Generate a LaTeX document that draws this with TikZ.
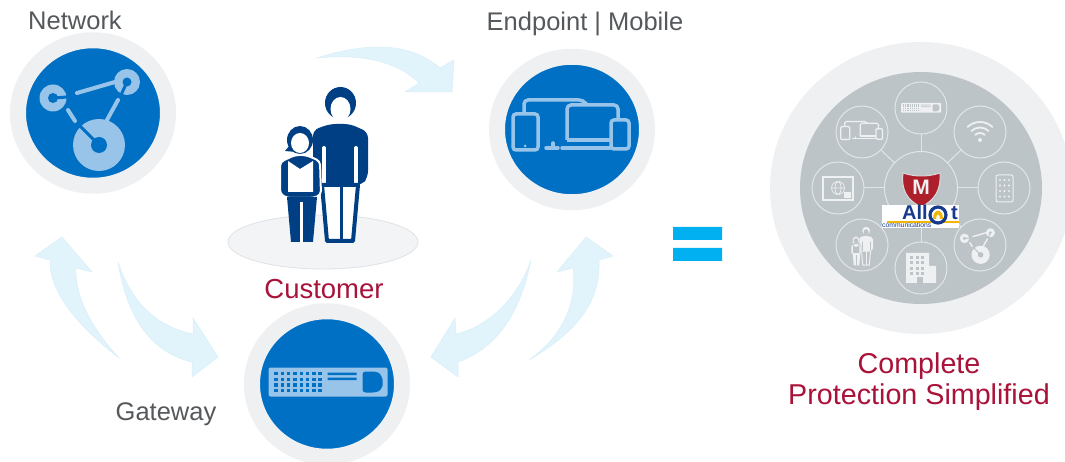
\documentclass[tikz,border=0pt]{standalone}
\usepackage{fontspec}
\setmainfont{Liberation Sans}
\definecolor{discblue}{HTML}{0070C5}
\definecolor{iconblue}{HTML}{98C4E9}
\definecolor{ringgrey}{HTML}{EFF0F2}
\definecolor{sweepblue}{HTML}{E1F3FB}
\definecolor{sweepedge}{HTML}{D9EFF9}
\definecolor{navyblue}{HTML}{003F84}
\definecolor{labelgrey}{HTML}{55595C}
\definecolor{crimson}{HTML}{A91239}
\definecolor{hubgrey}{HTML}{BDC4C8}
\definecolor{hubline}{HTML}{E2E5E7}
\definecolor{logonavy}{HTML}{173A8C}
\definecolor{logoyellow}{HTML}{F2B705}
\definecolor{shieldred}{HTML}{AE1F2C}
\definecolor{eqblue}{HTML}{00B0F0}
\definecolor{floorfill}{HTML}{F2F4F6}
\definecolor{flooredge}{HTML}{DFE2E5}
\tikzset{
  bluedisc/.style={circle, fill=discblue, draw=ringgrey, line width=16pt,
    minimum size=150pt, inner sep=0pt, outer sep=0pt, yscale=.97, transform shape},
  sat/.style={circle, draw=hubline, line width=1pt, minimum size=52pt,
    inner sep=0pt, outer sep=0pt},
  spoke/.style={draw=hubline, line width=1pt},
  sweep/.style={fill=sweepblue, draw=sweepedge, line width=.5pt},
  biglabel/.style={text=labelgrey, font=\fontsize{25.5}{30}\selectfont, inner sep=0pt},
  redlabel/.style={text=crimson, font=\fontsize{#1}{30}\selectfont, inner sep=0pt}
}
% #1 position, #2 scale, #3 icon colour, #4 colour behind the icon
\newcommand{\ringnode}[6]{
  \fill[#5] (#1,#2) circle [radius=#3];
  \fill[#6] (#1,#2) circle [radius=#4];
}
\newcommand{\networkicon}[4]{
  \begin{scope}[shift={(#1)}, scale=#2]
    \draw[#3, line width=#2*4pt, line cap=round] (-16,-20) -- (22,-31)
      (-25,-3) -- (-18,8) (25,-13) -- (14,7);
    \ringnode{-40}{-15}{13.5}{5}{#3}{#4}
    \ringnode{34}{-31}{13}{4.5}{#3}{#4}
    \ringnode{6}{32}{26}{8}{#3}{#4}
    \draw[#4, line width=#2*3pt] (-40,-15) -- ++(14,-1) (34,-31) -- ++(-6,13)
      (6,32) -- ++(-19,-19);
  \end{scope}
}
\newcommand{\gatewayicon}[4]{
  \begin{scope}[shift={(#1)}, scale=#2]
    \fill[#3, rounded corners=#2*2pt] (-59,-15) rectangle (60,14);
    \foreach \c in {0,...,7}
      \foreach \r in {0,...,3}
        \fill[#4] (-53.2+6.3*\c,-10.7+5.7*\r) rectangle ++(3.4,3.4);
    \fill[#4] (0,-10) rectangle (29,-7.5) (0,-5) rectangle (29,-2.5);
    \fill[#4, rounded corners=#2*3pt] (35,-11) -- (48,-11)
      .. controls (53,-9) and (55,-4) .. (55,0)
      .. controls (55,4) and (53,8) .. (48,10) -- (35,10) -- cycle;
  \end{scope}
}
\newcommand{\deviceicon}[4]{
  \begin{scope}[shift={(#1)}, scale=#2, line width=#2*3.5pt]
    \draw[#3, rounded corners=#2*4pt] (-48,-14) -- (-48,-29) -- (11,-29) -- (15,-24);
    \draw[#3, rounded corners=#2*4pt] (-5,11) -- (-5,-24) -- (46,-24) -- (46,-9);
    \draw[#3] (-5,11) -- (38,11);
    \draw[#3, rounded corners=#2*3pt] (-59,-15) rectangle (-34,21);
    \fill[#3] (-47,17) circle [radius=1.5];
    \draw[#3, rounded corners=#2*3pt] (39,-9) rectangle (57,20);
    \draw[#3, line width=#2*3.5pt, line cap=round] (-26,19) -- (-14,19) (-10,19) -- (38,19)
      (-19,14) -- (-19,19);
  \end{scope}
}
\newcommand{\personicon}[4]{
  \begin{scope}[shift={(#1)}, scale=#2]
    %the man
    \fill[#3] (16.5,-61) ellipse [x radius=15.5, y radius=16];
    \fill[#3, rounded corners=#2*6pt] (-11,21) -- (-11,-34) -- (6,-40) -- (26,-40)
      -- (44,-32) -- (44,13) -- (38,21) -- cycle;
    \fill[#4] (16.5,-55) ellipse [x radius=10, y radius=12];
    \draw[#4, line width=#2*4pt, line cap=round] (0,-16) -- (0,20) (32,-16) -- (32,20);
    \draw[#3, fill=#4, line width=#2*4pt, line join=round] (-2,21) -- (34,21) -- (29,77)
      -- (3,77) -- cycle;
    \draw[#3, line width=#2*3pt] (17,21) -- (17,77);
    %the girl
    \fill[#3] (-24,-24) ellipse [x radius=13, y radius=14];
    \fill[#3] (-39,-13) -- (-30,-24) -- (-28,-12) -- cycle;
    \fill[#4] (-24,-21) ellipse [x radius=9, y radius=10];
    \draw[#4, fill=#3, line width=#2*2pt, rounded corners=#2*4pt] (-44,-2) -- (-29,-9) -- (-18,-9)
      -- (-4,-3) -- (-3,31) -- (-11,34) -- (-37,34) -- (-44,30) -- cycle;
    \fill[#4] (-36,-3) -- (-24,5) -- (-11,-3) -- (-11,28) -- (-36,28) -- cycle;
    \fill[#3] (-37,33) -- (-7,33) -- (-11,78) -- (-33,78) -- cycle;
    \draw[#4, line width=#2*3pt] (-23,38) -- (-23,78);
  \end{scope}
}
\begin{document}
\begin{tikzpicture}[x=1pt, y=-1pt]
  \clip (0,0) rectangle (1065,462);
  \fill[white] (0,0) rectangle (1065,462);
  %The curved arrows between the discs
  \draw[sweep] (119,358) .. controls (70,320) and (49,287) .. (50,260) -- (35,256) -- (62,237)
    -- (92,272) -- (76,268) .. controls (75,293) and (87,323) .. cycle;
  \draw[sweep] (118,262) .. controls (133,307) and (160,327) .. (193,334) -- (193,318) -- (218,357)
    -- (192,377) -- (192,362) .. controls (153,353) and (127,320) .. cycle;
  \draw[sweep] (531,260) .. controls (517,300) and (487,327) .. (456,334) -- (455,318) -- (431,357)
    -- (458,377) -- (458,362) .. controls (493,350) and (520,317) .. cycle;
  \draw[sweep] (529,360) .. controls (567,333) and (577,297) .. (573,268) -- (557,272) -- (586,237)
    -- (613,256) -- (599,260) .. controls (600,287) and (593,323) .. cycle;
  \draw[sweep] (317,58) .. controls (367,42) and (410,42) .. (440,68) -- (454,60) -- (452,92)
    -- (405,92) -- (419,83) .. controls (400,64) and (367,53) .. cycle;
  %The three blue discs
  \node[bluedisc] (networkdisc) at (93,113) {};
  \node[bluedisc] (endpointdisc) at (572,129.5) {};
  \node[bluedisc] (gatewaydisc) at (327,384) {};
  \networkicon{93,113}{1}{iconblue}{discblue}
  \deviceicon{572,129}{1}{iconblue}{discblue}
  \gatewayicon{327.5,382.5}{1}{iconblue}{discblue}
  %The customer
  \draw[fill=floorfill, draw=flooredge, line width=.8pt] (323,242) ellipse [x radius=95, y radius=27];
  \personicon{324,164}{1}{navyblue}{white}
  %The texts
  \node[biglabel] (networklabel) at (75,20) {Network};
  \node[biglabel] (endpointlabel) at (585,24) {Endpoint | Mobile};
  \node[biglabel] (gatewaylabel) at (166,414) {Gateway};
  \node[redlabel=27.5] (customerlabel) at (324,289) {Customer};
  \node[redlabel=28.7] (completelabel) at (919,366) {Complete};
  \node[redlabel=28.7] (protectionlabel) at (919,397) {Protection Simplified};
  %The equal sign
  \fill[eqblue] (673,227) rectangle (722,240) (673,248) rectangle (722,261);
  %The big disc on the right
  \fill[ringgrey] (921,188) ellipse [x radius=151, y radius=146];
  \fill[hubgrey] (921,188) ellipse [x radius=121, y radius=116];
  \node[sat, minimum size=73pt] (hub) at (921,188) {};
  \node[sat] (gatewaysat) at (921,108) {};
  \node[sat] (wifisat) at (980,132) {};
  \node[sat] (phonesat) at (1004,188) {};
  \node[sat] (networksat) at (980,245) {};
  \node[sat] (buildingsat) at (921,268) {};
  \node[sat] (peoplesat) at (862,245) {};
  \node[sat] (globesat) at (838,188) {};
  \node[sat] (devicesat) at (862,132) {};
  \foreach \s in {gatewaysat,wifisat,phonesat,networksat,buildingsat,peoplesat,globesat,devicesat}
    \draw[spoke] (hub) -- (\s);
  \gatewayicon{921,108}{.335}{ringgrey}{hubgrey}
  \deviceicon{862,132}{.36}{ringgrey}{hubgrey}
  \networkicon{978.5,243.6}{.35}{ringgrey}{hubgrey}
  \personicon{862,246}{.25}{ringgrey}{hubgrey}
  %wifi
  \fill[ringgrey] (980,140) circle [radius=2];
  \foreach \r in {7,12.5,18}
    \draw[ringgrey, line width=1.8pt] (980,140) ++(225:\r) arc [start angle=225, end angle=315, radius=\r];
  %phone
  \draw[ringgrey, line width=1pt, rounded corners=2pt] (996,175) rectangle (1013,202);
  \foreach \c in {0,1,2}
    \foreach \r in {0,...,3}
      \fill[ringgrey] (1000+4.5*\c,180+5.5*\r) circle [radius=1.2];
  %globe on a tablet
  \draw[ringgrey, line width=1.2pt] (823,177) rectangle (853,200);
  \draw[ringgrey, line width=.7pt] (838,188) circle [radius=6.5] (831.5,188) -- (844.5,188)
    (838,188) ellipse [x radius=3, y radius=6.5];
  \fill[ringgrey] (844,192) rectangle (851,198);
  %building
  \fill[ringgrey] (906,253) rectangle (929,283) (929,266) rectangle (936,283);
  \foreach \c in {0,1,2}
    \foreach \r in {0,...,3}
      \fill[hubgrey] (910+5.5*\c,256+5.5*\r) rectangle ++(3,3);
  \fill[hubgrey] (917,277) rectangle (923,283);
  %The shield and the logo
  \draw[white!85!black, fill=shieldred, line width=1pt] (903,173) .. controls (915,177) and (928,177) .. (940,173)
    .. controls (941,190) and (935,200) .. (921,207) .. controls (907,200) and (901,190) .. cycle;
  \node[text=ringgrey, font=\fontsize{21}{22}\bfseries\selectfont, inner sep=0pt] (shieldletter) at (921,187) {M};
  \fill[white] (882,205) rectangle (959,228);
  \fill[logoyellow] (887,221.5) rectangle (959,223.5);
  \node[anchor=base west, text=logonavy, font=\fontsize{20}{20}\bfseries\selectfont, inner sep=0pt] (logoall) at (902,220) {All};
  \node[anchor=base west, text=logonavy, font=\fontsize{20}{20}\bfseries\selectfont, inner sep=0pt] (logot) at (951,220) {t};
  \draw[logonavy, fill=white, line width=3.2pt] (938,215) circle [radius=8];
  \fill[logoyellow] (933,219) .. controls (933,208) and (943,208) .. (943,219) -- (940,219)
    .. controls (940,213) and (936,213) .. (936,219) -- cycle;
  \node[anchor=base west, text=logonavy, font=\fontsize{6.8}{7}\selectfont, inner sep=0pt] (logocomm) at (882,228) {communications};
\end{tikzpicture}
\end{document}
